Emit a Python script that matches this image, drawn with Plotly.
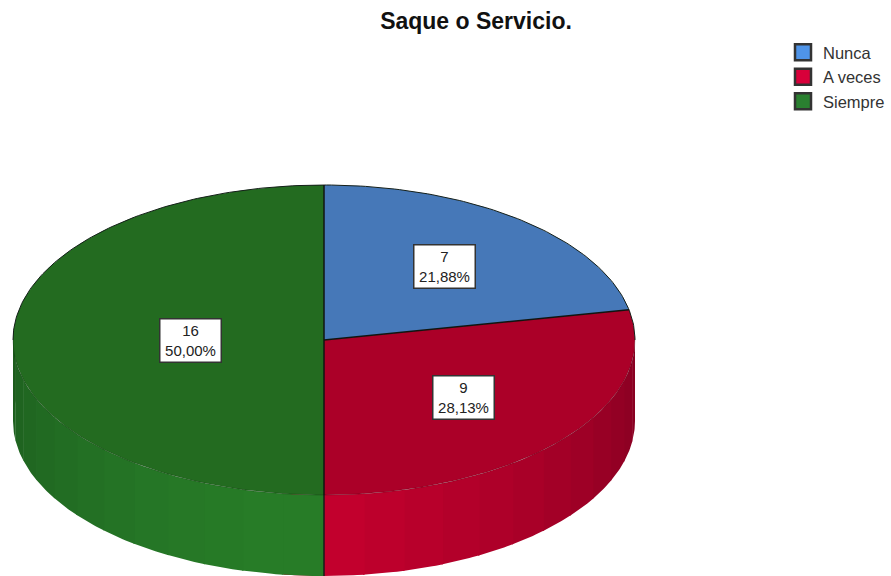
import numpy as np
import plotly.graph_objects as go

categories = ["Nunca", "A veces", "Siempre"]
counts = [7, 9, 16]
percent_labels = ["21,88%", "28,13%", "50,00%"]

top_colors = ["#4678b8", "#ab0028", "#236b20"]
legend_colors = ["#4f94e8", "#d8003a", "#2a8030"]
# side wall shades, one per 7.5 degree facet going clockwise
red_side = ["#8a0022", "#8e0023", "#930024", "#980025", "#9e0026", "#a30027", "#a90028",
            "#ae0029", "#b3002a", "#b8002b", "#bd002c", "#c2002d", "#c8002f", "#c8002f"]
green_side = ["#277c27", "#277c27", "#267a26", "#267826", "#257626", "#247325", "#237024",
              "#226d23", "#216a22", "#206721", "#1f6420", "#1e611f", "#1d5f1e", "#1c5c1c"]
label_radius = [0.61, 0.58, 0.43]

# pie geometry in page pixels
cx, cy = 324, 340
rx, ry = 311, 155
depth = 81


def rim(a0, a1, n=60):
    # angles clockwise from 12 o'clock, degrees
    a = np.radians(np.linspace(a0, a1, n))
    return cx + rx * np.sin(a), cy - ry * np.cos(a)


fig = go.Figure()

# side wall first, top goes over it
total = sum(counts)
edges = np.cumsum([0] + counts) / total * 360

for start, shades in [(90.0, red_side), (180.0, green_side)]:
    for i, shade in enumerate(shades):
        a0 = start + i * 7.5
        a1 = min(a0 + 7.5 + 0.3, start + 90)
        x, y = rim(a0, a1, 12)
        fig.add_trace(go.Scatter(
            x=np.r_[x, x[::-1]],
            y=np.r_[y, y[::-1] + depth],
            fill="toself", mode="lines", line=dict(width=0),
            fillcolor=shade, showlegend=False, hoverinfo="skip",
        ))

# dark seam at the front of the wall
fig.add_trace(go.Scatter(
    x=[cx, cx], y=[cy + ry, cy + ry + depth], mode="lines",
    line=dict(color="#1a1a1a", width=1.5), showlegend=False, hoverinfo="skip",
))

# top slices, no outline here
for i, cat in enumerate(categories):
    x, y = rim(edges[i], edges[i + 1], 120)
    fig.add_trace(go.Scatter(
        x=np.r_[cx, x, cx], y=np.r_[cy, y, cy],
        fill="toself", mode="lines", line=dict(width=0),
        fillcolor=top_colors[i], showlegend=False, hoverinfo="skip",
    ))

# outlines: back rim is black, front rim barely shows
x, y = rim(-90, 90, 200)
fig.add_trace(go.Scatter(x=x, y=y, mode="lines", line=dict(color="#15201a", width=1),
                         showlegend=False, hoverinfo="skip"))
x, y = rim(90, 270, 200)
fig.add_trace(go.Scatter(x=x, y=y, mode="lines", line=dict(color="rgba(0,0,0,0.2)", width=1),
                         showlegend=False, hoverinfo="skip"))
for e in edges[:-1]:
    x, y = rim(e, e, 1)
    fig.add_trace(go.Scatter(x=[cx, x[0]], y=[cy, y[0]], mode="lines",
                             line=dict(color="#101510", width=1.5),
                             showlegend=False, hoverinfo="skip"))

# legend entries
for i, cat in enumerate(categories):
    fig.add_trace(go.Scatter(
        x=[None], y=[None], mode="markers", name=cat,
        marker=dict(symbol="square", size=16, color=legend_colors[i],
                    line=dict(color="#333333", width=2.5)),
    ))

# value labels
for i in range(3):
    mid = np.radians((edges[i] + edges[i + 1]) / 2)
    fig.add_annotation(
        x=cx + label_radius[i] * rx * np.sin(mid),
        y=cy - label_radius[i] * ry * np.cos(mid),
        text=f"{counts[i]}<br>{percent_labels[i]}",
        showarrow=False, bgcolor="white", bordercolor="#333333", borderwidth=1.5,
        borderpad=0, width=60, height=42, align="center",
        font=dict(family="Liberation Sans", size=15, color="#222222"),
    )

fig.update_layout(
    width=891, height=576,
    margin=dict(l=0, r=0, t=0, b=0),
    paper_bgcolor="white", plot_bgcolor="white",
    title=dict(text="<b>Saque o Servicio.</b>", x=476 / 891, xanchor="center", y=1 - 21 / 576, yanchor="middle",
               font=dict(family="Liberation Sans", size=23, color="#111111")),
    xaxis=dict(range=[0, 891], visible=False, fixedrange=True),
    yaxis=dict(range=[576, 0], visible=False, fixedrange=True),
    legend=dict(x=783 / 891, y=1 - 35 / 576, xanchor="left", yanchor="top",
                bgcolor="rgba(0,0,0,0)", itemwidth=30, tracegroupgap=0,
                font=dict(family="Liberation Sans", size=16.5, color="#333333")),
)

# the default page has an 8px body margin
fig.write_html("out.html", config={"displayModeBar": False},
               post_script="document.body.style.margin='0';")
